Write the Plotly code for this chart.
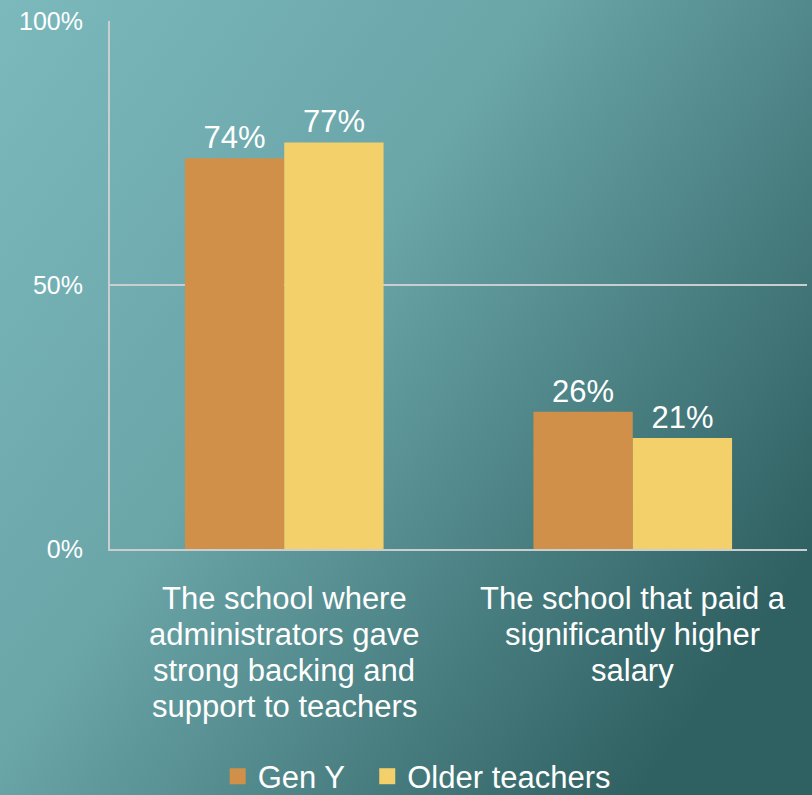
import plotly.graph_objects as go

categories = [
    "The school where<br>administrators gave<br>strong backing and<br>support to teachers",
    "The school that paid a<br>significantly higher<br>salary",
]
gen_y = [74, 26]
older = [77, 21]
y_ticks = [0, 50, 100]
y_tick_text = ["0%", "50%", "100%"]

ORANGE = "#D0904A"
YELLOW = "#F4D06A"
GRID = "#CACECE"
FONT = "Liberation Sans, Arial, sans-serif"

W, H = 812, 795
ML, MR, MT, MB = 110, 5, 21, 246

bg_svg = (
    "data:image/svg+xml;utf8,"
    "<svg xmlns='http://www.w3.org/2000/svg' width='812' height='795' preserveAspectRatio='none'>"
    "<defs><linearGradient id='g' x1='0' y1='0' x2='1' y2='0.7'>"
    "<stop offset='0' stop-color='%237BB9BD'/>"
    "<stop offset='0.45' stop-color='%236AA5A8'/>"
    "<stop offset='1' stop-color='%232F6062'/>"
    "</linearGradient></defs>"
    "<rect width='812' height='795' fill='url(%23g)'/></svg>"
)

pw = W - ML - MR
ph = H - MT - MB

fig = go.Figure()
for name, vals, col in [("Gen Y", gen_y, ORANGE), ("Older teachers", older, YELLOW)]:
    fig.add_trace(go.Bar(
        x=categories, y=vals, name=name, marker_color=col, marker_line_width=0,
        text=[f"{v}%" for v in vals], textposition="outside", showlegend=False,
        textfont=dict(color="white", size=31, family=FONT), cliponaxis=False,
        hoverinfo="skip",
    ))
# legend entries with bigger square symbols
for name, col in [("Gen Y\u00a0\u00a0", ORANGE), ("Older teachers", YELLOW)]:
    fig.add_trace(go.Scatter(
        x=[None], y=[None], mode="markers", name=name,
        marker=dict(symbol="square", size=17, color=col),
    ))

# category labels, one annotation per line (tighter line spacing than <br>)
annotations = []
for cat in categories:
    for i, line in enumerate(cat.split("<br>")):
        annotations.append(dict(
            x=cat, y=0, xref="x", yref="y", text=line, showarrow=False,
            yshift=-49 - 36 * i, yanchor="middle", xanchor="center",
            font=dict(size=31, color="white", family=FONT),
        ))

fig.update_layout(
    width=W, height=H,
    margin=dict(l=ML, r=MR, t=MT, b=MB, autoexpand=False),
    paper_bgcolor="#5E9699",
    plot_bgcolor="rgba(0,0,0,0)",
    barmode="group", bargap=0.43, bargroupgap=0,
    font=dict(family=FONT, color="white"),
    annotations=annotations,
    images=[dict(
        source=bg_svg, xref="paper", yref="paper",
        x=-ML / pw, y=1 + MT / ph, sizex=W / pw, sizey=H / ph,
        xanchor="left", yanchor="top", sizing="stretch", layer="below",
    )],
    legend=dict(
        orientation="h", x=0.44, xanchor="center", y=-0.431,
        yanchor="middle", font=dict(size=31, color="white", family=FONT),
        bgcolor="rgba(0,0,0,0)", itemwidth=30, tracegroupgap=0,
    ),
)
fig.update_xaxes(
    showline=True, linecolor=GRID, linewidth=2, showgrid=False,
    showticklabels=False, ticks="",
)
fig.update_yaxes(
    range=[0, 100], tickvals=y_ticks, ticktext=y_tick_text,
    showgrid=True, gridcolor=GRID, gridwidth=2,
    showline=True, linecolor=GRID, linewidth=2, zeroline=False,
    tickfont=dict(size=25, color="white", family=FONT), ticks="",
    ticklabelstandoff=20,
)

fig.write_html(
    "out.html",
    config={"displayModeBar": False},
    post_script="document.body.style.margin='0';document.body.style.overflow='hidden';",
)
